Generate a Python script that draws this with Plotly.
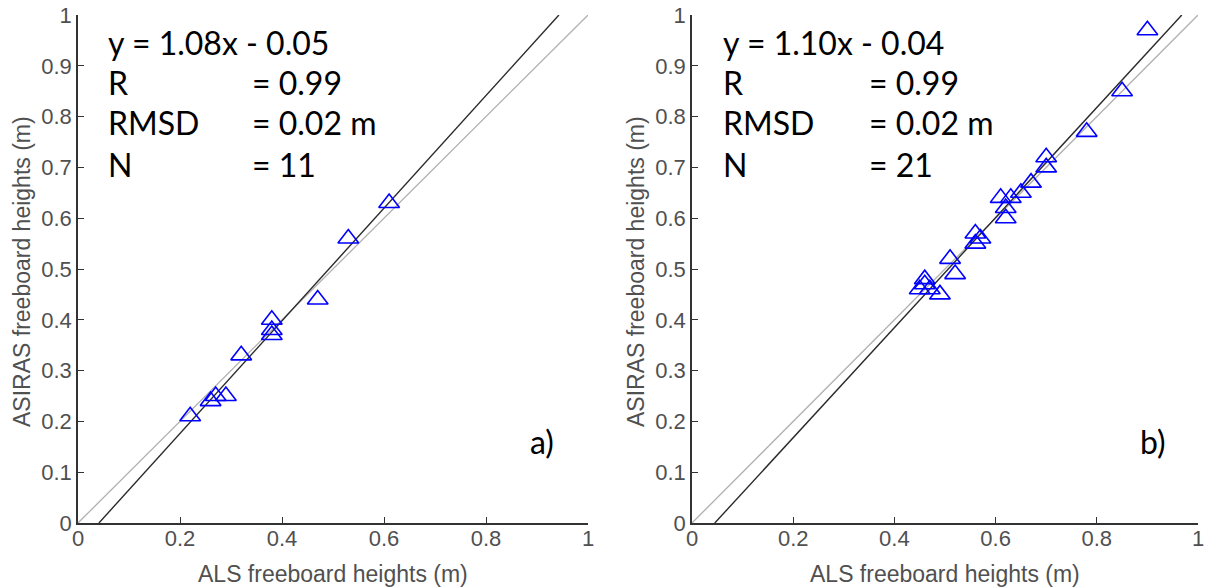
import plotly.graph_objects as go

# Panel a) data (ALS x, ASIRAS y)
als_a = [0.22, 0.26, 0.27, 0.29, 0.32, 0.38, 0.38, 0.38, 0.47, 0.53, 0.61]
asiras_a = [0.21, 0.24, 0.25, 0.25, 0.33, 0.40, 0.38, 0.37, 0.44, 0.56, 0.63]

# Panel b) data
als_b = [0.45, 0.46, 0.46, 0.47, 0.49, 0.51, 0.52, 0.56, 0.56, 0.57, 0.61,
         0.62, 0.62, 0.63, 0.65, 0.67, 0.70, 0.70, 0.78, 0.85, 0.90]
asiras_b = [0.46, 0.48, 0.47, 0.46, 0.45, 0.52, 0.49, 0.57, 0.55, 0.56, 0.64,
            0.62, 0.60, 0.64, 0.65, 0.67, 0.72, 0.70, 0.77, 0.85, 0.97]

# Fit lines (endpoints) and 1:1 reference line
fit_a_x = [0.041, 0.943]
fit_a_y = [0.0, 1.0]
fit_b_x = [0.045, 0.968]
fit_b_y = [0.0, 1.0]
one_x = [0.0, 1.0]
one_y = [0.0, 1.0]

stats_a = ["y = 1.08x - 0.05", "R", "RMSD", "N"]
vals_a = ["", "= 0.99", "= 0.02 m", "= 11"]
stats_b = ["y = 1.10x - 0.04", "R", "RMSD", "N"]
vals_b = ["", "= 0.99", "= 0.02 m", "= 21"]
panel_labels = ["a)", "b)"]

x_ticks = [0, 0.2, 0.4, 0.6, 0.8, 1]
x_ticktext = ["0", "0.2", "0.4", "0.6", "0.8", "1"]
y_ticks = [0, 0.1, 0.2, 0.3, 0.4, 0.5, 0.6, 0.7, 0.8, 0.9, 1]
y_ticktext = ["0", "0.1", "0.2", "0.3", "0.4", "0.5", "0.6", "0.7", "0.8", "0.9", "1"]

W, H = 1206, 588
fig = go.Figure()

def add_panel(xs, ys, fx, fy, xa, ya):
    fig.add_trace(go.Scatter(x=one_x, y=one_y, mode="lines",
                             line=dict(color="#b0b0b0", width=1.3),
                             xaxis=xa, yaxis=ya, showlegend=False, hoverinfo="skip"))
    fig.add_trace(go.Scatter(x=fx, y=fy, mode="lines",
                             line=dict(color="#2a2a2a", width=1.4),
                             xaxis=xa, yaxis=ya, showlegend=False, hoverinfo="skip"))
    fig.add_trace(go.Scatter(x=xs, y=ys, mode="markers",
                             marker=dict(symbol="triangle-up-open", size=18,
                                         color="#0000ff", line=dict(width=1.6, color="#0000ff")),
                             xaxis=xa, yaxis=ya, showlegend=False, cliponaxis=False))

add_panel(als_a, asiras_a, fit_a_x, fit_a_y, "x", "y")
add_panel(als_b, asiras_b, fit_b_x, fit_b_y, "x2", "y2")

tick_font = dict(family="Liberation Sans, Arial, sans-serif", size=22, color="#505050")
axis_common = dict(range=[0, 1], showgrid=False, zeroline=False, showline=True,
                   linecolor="#333333", linewidth=1.5, ticks="inside", ticklen=6,
                   tickwidth=1.3, tickcolor="#333333", tickfont=tick_font, mirror=False,
                   automargin=False)
x_common = dict(axis_common, ticklabelstandoff=-5)
y_common = dict(axis_common, ticklabelstandoff=0)

dom_y = [1 - 523 / H, 1 - 15 / H]
fig.update_layout(
    width=W, height=H, margin=dict(l=0, r=0, t=0, b=0),
    plot_bgcolor="white", paper_bgcolor="white",
    xaxis=dict(domain=[78 / W, 588 / W], anchor="y", tickvals=x_ticks, ticktext=x_ticktext, **x_common),
    yaxis=dict(domain=dom_y, anchor="x", tickvals=y_ticks, ticktext=y_ticktext, **y_common),
    xaxis2=dict(domain=[692 / W, 1198 / W], anchor="y2", tickvals=x_ticks, ticktext=x_ticktext, **x_common),
    yaxis2=dict(domain=dom_y, anchor="x2", tickvals=y_ticks, ticktext=y_ticktext, **y_common),
)

txt_font = dict(family="Lato, Carlito, sans-serif", size=32, color="black")
ann = []
rows_y = [0.946, 0.867, 0.788, 0.706]
for (stats, vals, xa, ya, x0, x1) in [(stats_a, vals_a, "x", "y", 0.054, 0.338),
                                      (stats_b, vals_b, "x2", "y2", 0.058, 0.346)]:
    for s, v, yy in zip(stats, vals, rows_y):
        ann.append(dict(x=x0, y=yy, xref=xa, yref=ya, text=s, showarrow=False,
                        xanchor="left", yanchor="middle", font=txt_font))
        if v:
            ann.append(dict(x=x1, y=yy, xref=xa, yref=ya, text=v, showarrow=False,
                            xanchor="left", yanchor="middle", font=txt_font))

for lab, xa, ya, xx in [(panel_labels[0], "x", "y", 0.91), (panel_labels[1], "x2", "y2", 0.911)]:
    ann.append(dict(x=xx, y=0.161, xref=xa, yref=ya, text=lab, showarrow=False,
                    xanchor="center", yanchor="middle", font=txt_font))

title_font = dict(family="Liberation Sans, Arial, sans-serif", size=23, color="#505050")
for cx in [(78 + 588) / 2 / W, (692 + 1198) / 2 / W]:
    ann.append(dict(x=cx, y=1 - 574 / H, xref="paper", yref="paper",
                    text="ALS freeboard heights (m)", showarrow=False,
                    xanchor="center", yanchor="middle", font=title_font))
for cx in [22 / W, 636 / W]:
    ann.append(dict(x=cx, y=1 - 272 / H, xref="paper", yref="paper",
                    text="ASIRAS freeboard heights (m)", showarrow=False, textangle=-90,
                    xanchor="center", yanchor="middle", font=title_font))

fig.update_layout(annotations=ann)
fig.write_html("out.html")
